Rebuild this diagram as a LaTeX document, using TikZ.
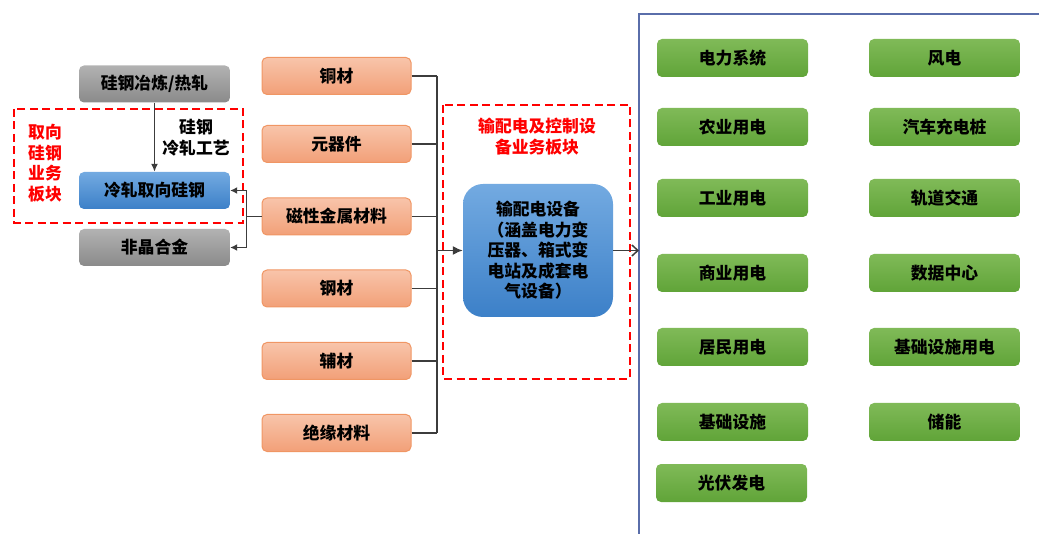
\documentclass[tikz,border=0pt]{standalone}
\usepackage{fontspec}
\setmainfont{Noto Sans CJK SC}
\usetikzlibrary{arrows.meta, positioning}

\definecolor{matTop}{RGB}{248,196,170}
\definecolor{matBot}{RGB}{242,160,120}
\definecolor{matLine}{RGB}{240,150,100}
\definecolor{grayTop}{RGB}{178,178,178}
\definecolor{grayBot}{RGB}{138,138,138}
\definecolor{blueTop}{RGB}{115,170,225}
\definecolor{blueBot}{RGB}{60,128,200}
\definecolor{greenTop}{RGB}{128,186,88}
\definecolor{greenBot}{RGB}{96,164,56}
\definecolor{frameLine}{RGB}{90,110,170}
\definecolor{linkLine}{RGB}{60,60,60}

\tikzset{
    boxfont/.style={font=\bfseries\fontsize{16.8}{20.5}\selectfont},
    matbox/.style={boxfont, rounded corners=5pt, draw=matLine, line width=1pt, top color=matTop, bottom color=matBot,
        minimum width=149pt, minimum height=37pt, inner sep=0pt},
    steelbox/.style={boxfont, rounded corners=5pt, draw=none, top color=grayTop, bottom color=grayBot,
        minimum width=151pt, minimum height=37pt, inner sep=0pt},
    gosbox/.style={boxfont, rounded corners=5pt, draw=none, top color=blueTop, bottom color=blueBot,
        minimum width=151pt, minimum height=37pt, inner sep=0pt},
    usebox/.style={boxfont, rounded corners=5pt, draw=none, top color=greenTop, bottom color=greenBot,
        minimum width=151pt, minimum height=38pt, inner sep=0pt},
    redzone/.style={draw=red, line width=2.8pt, dash pattern=on 8pt off 4.5pt},
    redtext/.style={boxfont, text=red, align=center},
    link/.style={draw=linkLine, line width=1.5pt},
}

\begin{document}
\begin{tikzpicture}[x=1pt, y=-1pt]
\useasboundingbox (0,0) rectangle (1039,534);

% grain-oriented silicon steel block
\draw[redzone] (14,109) rectangle (243,223);
\node[redtext] (gosLabel) at (45,163) {取向\\硅钢\\业务\\板块};
\node[steelbox] (smelt) at (154.5,84) {硅钢冶炼/热轧};
\node[gosbox] (gos) at (154.5,190.5) {冷轧取向硅钢};
\node[steelbox] (amorph) at (154.5,247.5) {非晶合金};
\node[boxfont, align=center] (coldRoll) at (196,137.5) {硅钢\\冷轧工艺};

% raw materials
\node[matbox] (copper) at (336.5,76) {铜材};
\node[matbox] (parts) at (336.5,144) {元器件};
\node[matbox] (magnet) at (336.5,216.5) {磁性金属材料};
\node[matbox] (steel) at (336.5,288.5) {钢材};
\node[matbox] (aux) at (336.5,361) {辅材};
\node[matbox] (insul) at (336.5,433) {绝缘材料};

% transmission and distribution block
\draw[redzone] (443,105) rectangle (630,379);
\node[redtext] (tdLabel) at (537,136.5) {输配电及控制设\\备业务板块};
\node[boxfont, align=center, rounded corners=20pt, top color=blueTop, bottom color=blueBot,
    minimum width=150pt, minimum height=133pt, inner sep=0pt] (equip) at (538,250.5)
    {输配电设备\\（涵盖电力变\\压器、箱式变\\电站及成套电\\气设备）};

% applications
\draw[frameLine, line width=1.4pt] (1039,14) -- (639,14) -- (639,534);
\coordinate (frame) at (639,250.5);
\node[usebox] (grid) at (732.5,58) {电力系统};
\node[usebox] (agri) at (732.5,127) {农业用电};
\node[usebox] (indus) at (732.5,198) {工业用电};
\node[usebox] (comm) at (732.5,273) {商业用电};
\node[usebox] (home) at (732.5,347) {居民用电};
\node[usebox] (infra) at (732.5,422) {基础设施};
\node[usebox] (solar) at (731.5,483) {光伏发电};
\node[usebox] (wind) at (944.5,58) {风电};
\node[usebox] (charge) at (944.5,127) {汽车充电桩};
\node[usebox] (rail) at (944.5,198) {轨道交通};
\node[usebox] (data) at (944.5,273) {数据中心};
\node[usebox] (infraUse) at (944.5,347) {基础设施用电};
\node[usebox] (storage) at (944.5,422) {储能};

% connectors
\draw[link, -{Latex[length=8pt,width=7pt]}] (smelt) -- (gos);
\draw[link] (magnet.west) -- ++(-15,0) coordinate (split);
\draw[link, {Latex[length=7pt,width=7pt]}-{Latex[length=7pt,width=7pt]}] (gos.east) -| (split) |- (amorph.east);

\coordinate (bus) at (437,250.5);
\draw[link] (copper.east) -- (copper.east -| bus);
\draw[link] (parts.east) -- (parts.east -| bus);
\draw[link] (magnet.east) -- (magnet.east -| bus);
\draw[link] (steel.east) -- (steel.east -| bus);
\draw[link] (aux.east) -- (aux.east -| bus);
\draw[link] (insul.east) -- (insul.east -| bus);
\draw[link] (copper.east -| bus) -- (insul.east -| bus);
\draw[link, -{Latex[length=10pt,width=9pt]}] (bus) -- (equip.west);
\draw[link, -{Straight Barb[length=6pt,width=11pt]}] (equip.east) -- (frame);

\end{tikzpicture}
\end{document}
